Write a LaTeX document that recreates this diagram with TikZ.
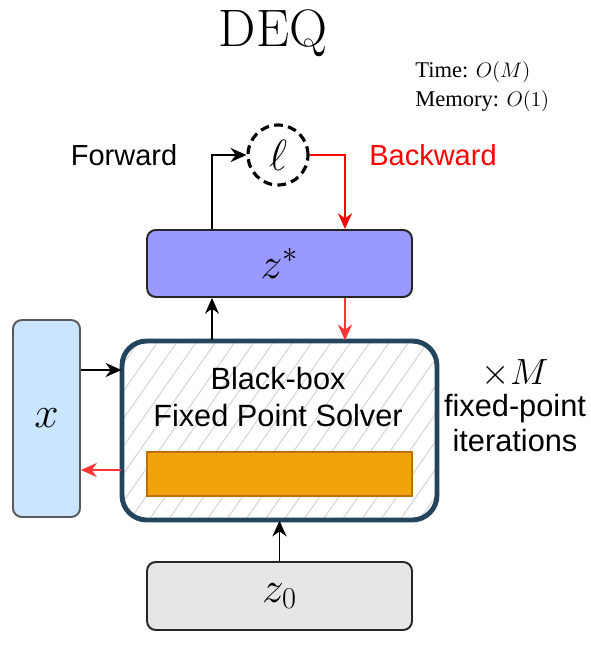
\documentclass[tikz,border=0pt]{standalone}
\usepackage{fontspec}
\setsansfont{Liberation Sans}
\newfontfamily\timesfont{Liberation Serif}
\usetikzlibrary{arrows.meta,patterns.meta,shapes.geometric}

\definecolor{zstarfill}{HTML}{9999FF}
\definecolor{xfill}{HTML}{CCE5FF}
\definecolor{zinitfill}{HTML}{E6E6E6}
\definecolor{solverline}{HTML}{23445D}
\definecolor{injfill}{HTML}{F0A30A}
\definecolor{injline}{HTML}{BD7000}
\definecolor{bwdred}{HTML}{FF3333}

\begin{document}
\begin{tikzpicture}[x=0.02cm,y=-0.02cm]
    % columns of the vertical arrows and rows of the side arrows
    \newcommand{\fwdcol}{212}
    \newcommand{\bwdcol}{345}
    \newcommand{\lw}{1.1pt} % width of the connectors

    % set the styles of boxes and arrows
    \tikzset{
        block/.style={
            draw=black!85,
            line width=\lw,
            rounded corners=5pt,
            minimum width=5.3cm
            },
        fwd/.style={
            draw=black,
            line width=\lw,
            -{Stealth[length=9pt,width=8pt]}
            },
        bwd/.style={
            draw=bwdred,
            line width=\lw,
            -{Stealth[length=9pt,width=8pt]}
            },
        label/.style={
            font=\sffamily\fontsize{16.5}{20}\selectfont
            }
    }

    \useasboundingbox (0,0) rectangle (591,650);

    % helper coordinates
    \coordinate (fc) at (\fwdcol,0);
    \coordinate (bc) at (\bwdcol,0);
    \coordinate (fr) at (0,370);
    \coordinate (br) at (0,470);

    % titles
    \node (title) at (273,33) {\fontsize{30}{34}\selectfont DEQ};
    \node[anchor=west, inner sep=0pt] (cost) at (415,72)
        {\timesfont\fontsize{12.8}{15}\selectfont Time: $O(M)$};
    \node[anchor=west, inner sep=0pt] (mem) at (415,101)
        {\timesfont\fontsize{12.8}{15}\selectfont Memory: $O(1)$};

    % loss
    \node[circle, draw, dashed, dash pattern=on 5pt off 3pt, line width=1.8pt,
          minimum size=1.2cm, inner sep=0pt] (loss) at (278,155)
        {\fontsize{24}{28}\selectfont$\ell$};
    \node[label] (fwdtxt) at (124,155) {Forward};
    \node[label, text=red] (bwdtxt) at (433,155) {Backward};

    % boxes
    \node[block, fill=zstarfill, minimum height=1.34cm] (zstar) at (279.5,263.5)
        {\fontsize{25}{28}\selectfont$z^*$};
    \node[draw=solverline, line width=2.8pt, rounded corners=14pt,
          minimum width=6.3cm, minimum height=3.58cm,
          pattern={Lines[angle=55,distance=9pt,line width=0.7pt]},
          pattern color=black!15] (solver) at (279.5,430.5) {};
    \node[align=center, font=\sffamily\fontsize{17.5}{21}\selectfont]
        (solvertxt) at (278,397) {Black-box\\Fixed Point Solver};
    \node[draw=injline, line width=0.8pt, fill=injfill,
          minimum width=5.3cm, minimum height=0.88cm] (inj) at (279.5,474) {};
    \node[block, fill=xfill, draw=black!65, minimum width=1.34cm,
          minimum height=3.94cm] (xin) at (46.5,418.5)
        {\fontsize{38}{40}\selectfont$x$};
    \node[block, fill=zinitfill, minimum height=1.36cm] (zinit) at (279.5,596)
        {\fontsize{25}{28}\selectfont$z_0$};

    % iterations
    \node (times) at (515,374) {\fontsize{21}{24}\selectfont$\times M$};
    \node[align=center, font=\sffamily\fontsize{17.5}{20}\selectfont]
        (iters) at (515,423) {fixed-point\\iterations};

    % forward connectors
    \draw[fwd] (zinit.north) -- (solver.south);
    \draw[fwd] (xin.east |- fr) -- (solver.west |- fr);
    \draw[fwd] (solver.north -| fc) -- (zstar.south -| fc);
    \draw[fwd] (zstar.north -| fc) |- (loss.west);

    % backward connectors
    \draw[bwd, draw=red] (loss.east) -| (zstar.north -| bc);
    \draw[bwd] (zstar.south -| bc) -- (solver.north -| bc);
    \draw[bwd] (solver.west |- br) -- (xin.east |- br);
\end{tikzpicture}
\end{document}
